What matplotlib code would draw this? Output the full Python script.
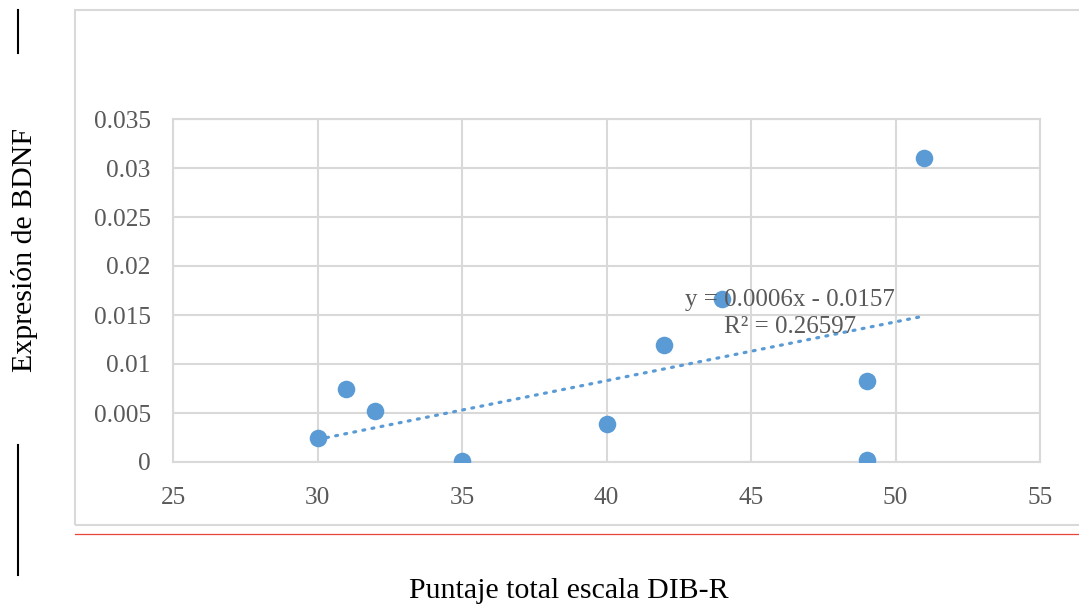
import matplotlib.pyplot as plt
from matplotlib.lines import Line2D
from matplotlib.patches import Rectangle
import numpy as np

# Puntaje DIB-R vs expresión de BDNF
puntaje = [30, 31, 32, 35, 40, 42, 44, 49, 49, 51]
bdnf = [0.0025, 0.0075, 0.0052, 0.0001, 0.0039, 0.0119, 0.0166, 0.0083, 0.0002, 0.0310]

# Línea de tendencia (coeficientes de la ecuación mostrada)
pendiente = 0.0006
intercepto = -0.0157
r2 = 0.26597

x_ticks = [25, 30, 35, 40, 45, 50, 55]
y_ticks = [0, 0.005, 0.01, 0.015, 0.02, 0.025, 0.03, 0.035]
y_labels = ['0', '0.005', '0.01', '0.015', '0.02', '0.025', '0.03', '0.035']

azul = '#5b9bd5'
gris = '#d9d9d9'
texto = '#595959'

plt.rcParams['font.family'] = ['Liberation Serif', 'DejaVu Serif']

W, H = 1079, 604
fig = plt.figure(figsize=(W / 100, H / 100), dpi=100)

# marco del gráfico
fig.patches.append(Rectangle((75 / W, 1 - 525 / H), 1.0, (525 - 10) / H,
                             transform=fig.transFigure, fill=False,
                             edgecolor=gris, lw=1.5))
# línea roja inferior
fig.add_artist(Line2D([75 / W, 1], [1 - 534 / H] * 2, color='#e8463a', lw=0.9))
# líneas negras a la izquierda
fig.add_artist(Line2D([18 / W] * 2, [1 - 10 / H, 1 - 53 / H], color='black', lw=1.5))
fig.add_artist(Line2D([18 / W] * 2, [1 - 445 / H, 1 - 575 / H], color='black', lw=1.5))

ax = fig.add_axes([173 / W, 1 - 462 / H, (1040 - 173) / W, (462 - 119) / H])
ax.set_xlim(25, 55)
ax.set_ylim(0, 0.035)
ax.set_xticks(x_ticks)
ax.set_yticks(y_ticks)
ax.set_yticklabels(y_labels)
ax.grid(True, color=gris, lw=1.5)
ax.set_axisbelow(True)
for s in ax.spines.values():
    s.set_color(gris)
    s.set_linewidth(1.5)
ax.tick_params(length=0, labelsize=18.3, colors=texto)
ax.tick_params(axis='y', pad=16)
ax.tick_params(axis='x', pad=18)

ax.scatter(puntaje, bdnf, s=160, color=azul, zorder=3, linewidths=0)

xt = np.array([min(puntaje), max(puntaje)])
ax.plot(xt, pendiente * xt + intercepto, color=azul, lw=2.3,
        linestyle=(0, (0.6, 2.3)), dash_capstyle='round', zorder=2)

ax.text(46.35, 0.01653, f'y = {pendiente:.4f}x - {abs(intercepto):.4f}',
        ha='center', va='center', fontsize=18, color=texto, zorder=4)
ax.text(46.35, 0.01378, f'R² = {r2}', ha='center', va='center',
        fontsize=18, color=texto, zorder=4)

fig.text(569 / W, 1 - 591 / H, 'Puntaje total escala DIB-R',
         ha='center', va='center', fontsize=21.5, color='black')
fig.text(25 / W, 1 - 250 / H, 'Expresión de BDNF', rotation=90,
         ha='center', va='center', fontsize=21.5, color='black')

fig.savefig('out.png', dpi=100)
